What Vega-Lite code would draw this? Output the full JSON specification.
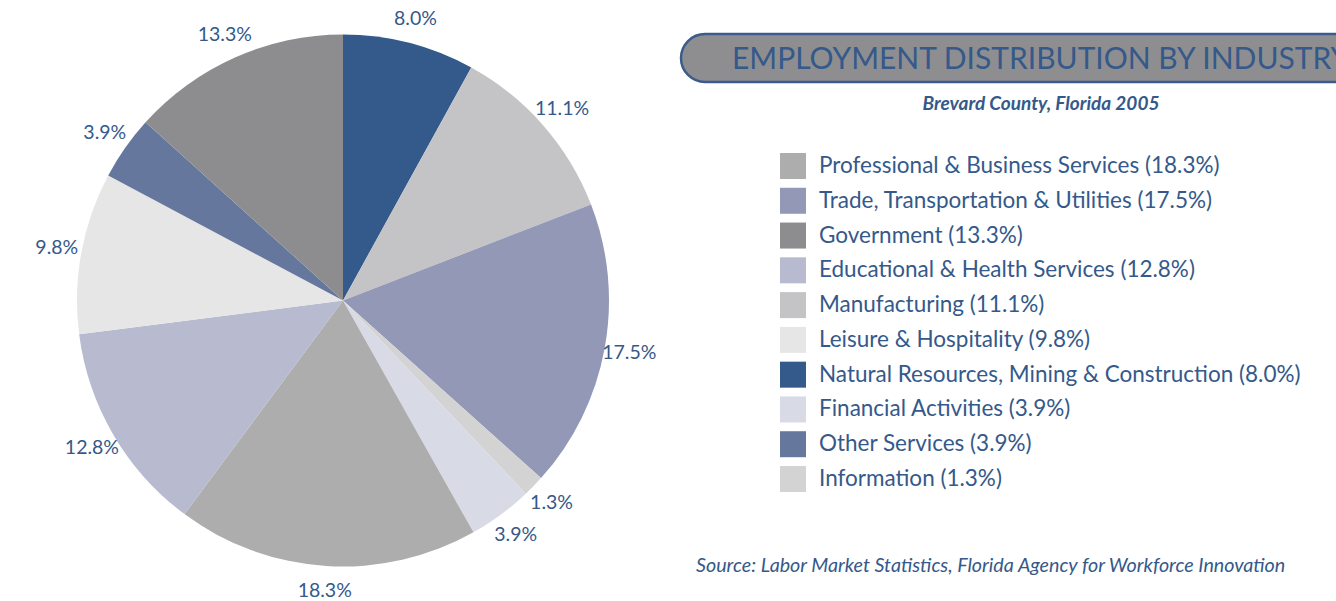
{
  "$schema": "https://vega.github.io/schema/vega-lite/v6.json",
  "padding": 0,
  "spacing": 0,
  "bounds": "flush",
  "background": "white",
  "config": {"view": {"stroke": null}, "font": "Lato"},
  "datasets": {
    "industries": [
      {"name": "Natural Resources, Mining & Construction", "value": 8.0, "pct": "8.0%", "order": 1, "legend": "Natural Resources, Mining & Construction (8.0%)"},
      {"name": "Manufacturing", "value": 11.1, "pct": "11.1%", "order": 2, "legend": "Manufacturing (11.1%)"},
      {"name": "Trade, Transportation & Utilities", "value": 17.5, "pct": "17.5%", "order": 3, "legend": "Trade, Transportation & Utilities (17.5%)"},
      {"name": "Information", "value": 1.3, "pct": "1.3%", "order": 4, "legend": "Information (1.3%)"},
      {"name": "Financial Activities", "value": 3.9, "pct": "3.9%", "order": 5, "legend": "Financial Activities (3.9%)"},
      {"name": "Professional & Business Services", "value": 18.3, "pct": "18.3%", "order": 6, "legend": "Professional & Business Services (18.3%)"},
      {"name": "Educational & Health Services", "value": 12.8, "pct": "12.8%", "order": 7, "legend": "Educational & Health Services (12.8%)"},
      {"name": "Leisure & Hospitality", "value": 9.8, "pct": "9.8%", "order": 8, "legend": "Leisure & Hospitality (9.8%)"},
      {"name": "Other Services", "value": 3.9, "pct": "3.9%", "order": 9, "legend": "Other Services (3.9%)"},
      {"name": "Government", "value": 13.3, "pct": "13.3%", "order": 10, "legend": "Government (13.3%)"}
    ]
  },
  "hconcat": [
    {
      "width": 686,
      "height": 601,
      "data": {"name": "industries"},
      "encoding": {
        "theta": {"field": "value", "type": "quantitative", "stack": true},
        "order": {"field": "order", "type": "quantitative"}
      },
      "layer": [
        {
          "mark": {"type": "arc", "outerRadius": 266, "stroke": null},
          "encoding": {
            "color": {
              "field": "name",
              "type": "nominal",
              "legend": null,
              "scale": {
                "domain": ["Natural Resources, Mining & Construction", "Manufacturing", "Trade, Transportation & Utilities", "Information", "Financial Activities", "Professional & Business Services", "Educational & Health Services", "Leisure & Hospitality", "Other Services", "Government"],
                "range": ["#335a8a", "#c4c3c6", "#9298b6", "#d3d3d3", "#d8dae6", "#adadad", "#b8bacf", "#e6e6e6", "#66779e", "#8d8d8f"]
              }
            }
          }
        },
        {
          "mark": {"type": "text", "radius": 291, "fontSize": 19.5, "color": "#34598a", "align": "center", "baseline": "middle"},
          "encoding": {"text": {"field": "pct", "type": "nominal"}}
        }
      ]
    },
    {
      "width": 650,
      "height": 601,
      "layer": [
        {
          "data": {"values": [{"t": "box"}]},
          "mark": {"type": "rect", "fill": "#8e8e90", "stroke": "#3b5b8e", "strokeWidth": 2.5, "cornerRadius": 24},
          "encoding": {
            "x": {"value": -5},
            "x2": {"value": 720},
            "y": {"value": 34},
            "y2": {"value": 82}
          }
        },
        {
          "data": {"values": [{"t": "EMPLOYMENT DISTRIBUTION BY INDUSTRY"}]},
          "mark": {"type": "text", "align": "left", "baseline": "alphabetic", "fontSize": 30, "color": "#34598a"},
          "encoding": {
            "x": {"value": 46},
            "y": {"value": 69},
            "text": {"field": "t", "type": "nominal"}
          }
        },
        {
          "data": {"values": [{"t": "Brevard County, Florida 2005"}]},
          "mark": {"type": "text", "align": "center", "baseline": "middle", "fontSize": 19, "fontStyle": "italic", "fontWeight": "bold", "color": "#34598a"},
          "encoding": {
            "x": {"value": 355},
            "y": {"value": 104},
            "text": {"field": "t", "type": "nominal"}
          }
        },
        {
          "data": {"values": [{"t": "Source: Labor Market Statistics, Florida Agency for Workforce Innovation"}]},
          "mark": {"type": "text", "align": "left", "baseline": "middle", "fontSize": 19.7, "fontStyle": "italic", "color": "#34598a"},
          "encoding": {
            "x": {"value": 10},
            "y": {"value": 566},
            "text": {"field": "t", "type": "nominal"}
          }
        },
        {
          "data": {"name": "industries"},
          "encoding": {
            "y": {
              "field": "name",
              "type": "nominal",
              "axis": null,
              "scale": {
                "type": "point",
                "domain": ["Professional & Business Services", "Trade, Transportation & Utilities", "Government", "Educational & Health Services", "Manufacturing", "Leisure & Hospitality", "Natural Resources, Mining & Construction", "Financial Activities", "Other Services", "Information"],
                "range": [166, 479],
                "padding": 0
              }
            }
          },
          "layer": [
            {
              "mark": {"type": "square", "size": 676, "filled": true, "opacity": 1},
              "encoding": {
                "x": {"value": 107},
                "color": {"field": "name", "type": "nominal", "legend": null}
              }
            },
            {
              "mark": {"type": "text", "align": "left", "baseline": "middle", "fontSize": 22.5, "color": "#34598a"},
              "encoding": {
                "x": {"value": 133},
                "text": {"field": "legend", "type": "nominal"}
              }
            }
          ]
        }
      ]
    }
  ],
  "resolve": {"scale": {"color": "shared"}}
}
